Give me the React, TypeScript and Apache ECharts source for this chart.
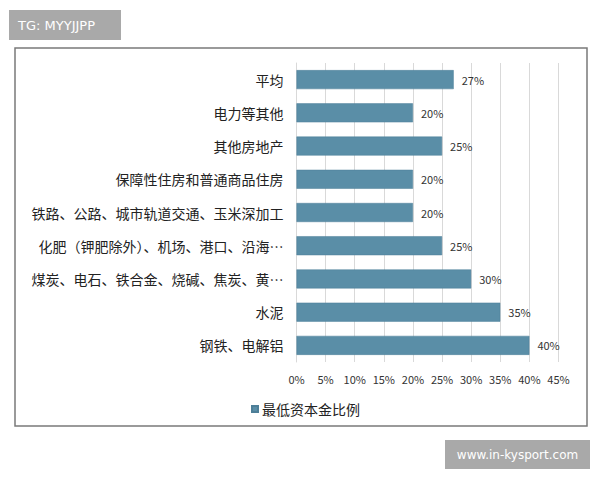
import React, { useEffect, useRef } from "react";
import * as echarts from "echarts";

const categories = [
  "平均",
  "电力等其他",
  "其他房地产",
  "保障性住房和普通商品住房",
  "铁路、公路、城市轨道交通、玉米深加工",
  "化肥（钾肥除外）、机场、港口、沿海…",
  "煤炭、电石、铁合金、烧碱、焦炭、黄…",
  "水泥",
  "钢铁、电解铝",
];
const values = [27, 20, 25, 20, 20, 25, 30, 35, 40];
const seriesName = "最低资本金比例";
const xTicks = [0, 5, 10, 15, 20, 25, 30, 35, 40, 45];

const FONT = "'Noto Sans CJK SC', 'Noto Sans', sans-serif";

export default function App() {
  const ref = useRef<HTMLDivElement>(null);
  useEffect(() => {
    if (!ref.current) return;
    const chart = echarts.init(ref.current, undefined, { renderer: "svg" });
    chart.setOption({
      animation: false,
      backgroundColor: "#ffffff",
      textStyle: { fontFamily: FONT },
      graphic: [
        {
          type: "rect",
          shape: { x: 15, y: 48, width: 572, height: 378 },
          style: { fill: "none", stroke: "#7a7a7a", lineWidth: 1.5 },
          z: -1,
        },
        {
          type: "rect",
          shape: { x: 9, y: 10, width: 112, height: 30 },
          style: { fill: "#a9a9a9" },
        },
        {
          type: "text",
          x: 18,
          y: 25,
          style: {
            text: "TG: MYYJJPP",
            fill: "#ffffff",
            font: "13px 'DejaVu Sans', sans-serif",
            verticalAlign: "middle",
          },
        },
        {
          type: "rect",
          shape: { x: 445, y: 440, width: 145, height: 29 },
          style: { fill: "#a9a9a9" },
        },
        {
          type: "text",
          x: 517.5,
          y: 454.5,
          style: {
            text: "www.in-kysport.com",
            fill: "#ffffff",
            font: "12px 'DejaVu Sans', sans-serif",
            align: "center",
            verticalAlign: "middle",
          },
        },
      ],
      legend: {
        data: [seriesName],
        left: 246,
        top: 397,
        itemWidth: 6,
        itemHeight: 6,
        itemGap: 4,
        icon: "rect",
        textStyle: { fontSize: 14, color: "#222", fontFamily: FONT, padding: [0, 0, 0, -1] },
      },
      grid: { left: 296.5, top: 63, width: 262, height: 299 },
      xAxis: {
        type: "value",
        min: 0,
        max: 45,
        interval: 5,
        axisLine: { show: false },
        axisTick: { show: false },
        splitLine: { show: true, lineStyle: { color: "#d9d9d9", width: 1 } },
        axisLabel: {
          formatter: (v: number) => (xTicks.includes(v) ? v + "%" : ""),
          fontSize: 11,
          color: "#333",
          margin: 11,
          fontFamily: FONT,
        },
      },
      yAxis: {
        type: "category",
        data: categories,
        inverse: true,
        axisLine: { show: true, lineStyle: { color: "#d9d9d9" } },
        axisTick: { show: false },
        axisLabel: { fontSize: 14, color: "#222", margin: 13, fontFamily: FONT },
      },
      series: [
        {
          name: seriesName,
          type: "bar",
          data: values,
          barWidth: 19,
          itemStyle: { color: "#5a8ea7", borderColor: "#4d7f98", borderWidth: 0.5 },
          label: {
            show: true,
            position: "right",
            distance: 8,
            formatter: (p: any) => p.value + "%",
            fontSize: 11,
            color: "#333",
            fontFamily: FONT,
          },
        },
      ],
    });
    return () => chart.dispose();
  }, []);
  return (
    <div
      ref={ref}
      style={{ position: "absolute", left: 0, top: 0, width: 600, height: 480 }}
    />
  );
}
